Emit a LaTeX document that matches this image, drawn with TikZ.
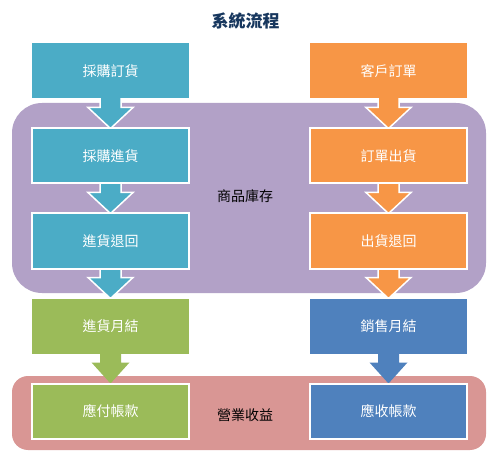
\documentclass[tikz,border=0pt]{standalone}
\usepackage{fontspec}
\setmainfont{Noto Sans CJK TC}
\usetikzlibrary{calc,positioning}

\definecolor{procblue}{HTML}{4BACC6}
\definecolor{salesorange}{HTML}{F79646}
\definecolor{stockpurple}{HTML}{B2A1C7}
\definecolor{paygreen}{HTML}{9BBB59}
\definecolor{recvblue}{HTML}{4F81BD}
\definecolor{revenuepink}{HTML}{D99694}
\definecolor{titlenavy}{HTML}{17375E}

\pgfdeclarelayer{regions}
\pgfdeclarelayer{arrows}
\pgfsetlayers{regions,arrows,main}

% block arrow from one box to the next: from, to, style, head half width
\newcommand{\flowarrow}[4]{%
  \path[#3] ($(#1.south)+(-10.5,4)$) -- ($(#2.north)+(-10.5,21)$) -- ($(#2.north)+(-#4,21)$)
    -- (#2.north) -- ($(#2.north)+(#4,21)$) -- ($(#2.north)+(10.5,21)$) -- ($(#1.south)+(10.5,4)$) -- cycle;}

\begin{document}
\begin{tikzpicture}[
  x=1pt, y=1pt,
  node distance=30pt and 121pt,
  box/.style={minimum width=157pt, minimum height=55pt, inner sep=0pt, outer sep=0pt, text=white, font=\fontsize{14}{16}\selectfont},
  inbox/.style={box, draw=white, line width=2pt},
  region/.style={inner sep=0pt, outer sep=0pt, minimum width=474pt},
  tag/.style={font=\fontsize{14}{16}\selectfont, text=black},
  outline/.style={draw=white, line width=1.5pt}
]
\useasboundingbox (0,0) rectangle (499,-460);

\node[font=\fontsize{17}{19}\selectfont\bfseries, text=titlenavy] (title) at (245.5,-21) {系統流程};

% left column
\node[box, fill=procblue] (buyorder) at (110.5,-71) {採購訂貨};
\node[inbox, fill=procblue, below=of buyorder] (buyin) {採購進貨};
\node[inbox, fill=procblue, below=of buyin] (buyreturn) {進貨退回};
\node[box, fill=paygreen, below=of buyreturn] (buymonth) {進貨月結};
\node[inbox, fill=paygreen, below=of buymonth] (payable) {應付帳款};

% right column
\node[box, fill=salesorange, right=of buyorder] (custorder) {客戶訂單};
\node[inbox, fill=salesorange, below=of custorder] (shipout) {訂單出貨};
\node[inbox, fill=salesorange, below=of shipout] (shipreturn) {出貨退回};
\node[box, fill=recvblue, below=of shipreturn] (salemonth) {銷售月結};
\node[inbox, fill=recvblue, below=of salemonth] (receivable) {應收帳款};

\begin{pgfonlayer}{regions}
\node[region, fill=stockpurple, rounded corners=30pt, minimum height=190pt] (stock) at (249,-198) {};
\node[region, fill=revenuepink, rounded corners=16pt, minimum height=74pt] (revenue) at (249,-413) {};
\end{pgfonlayer}
\node[tag] (stocktext) at (245,-196) {商品庫存};
\node[tag] (revenuetext) at (245,-415) {營業收益};

\begin{pgfonlayer}{arrows}
\flowarrow{buyorder}{buyin}{fill=procblue, outline}{22.5}
\flowarrow{buyin}{buyreturn}{fill=procblue, outline}{22.5}
\flowarrow{buyreturn}{buymonth}{fill=procblue, outline}{22.5}
\flowarrow{buymonth}{payable}{fill=paygreen}{19}
\flowarrow{custorder}{shipout}{fill=salesorange, outline}{22.5}
\flowarrow{shipout}{shipreturn}{fill=salesorange, outline}{22.5}
\flowarrow{shipreturn}{salemonth}{fill=salesorange, outline}{22.5}
\flowarrow{salemonth}{receivable}{fill=recvblue}{19}
\end{pgfonlayer}
\end{tikzpicture}
\end{document}
